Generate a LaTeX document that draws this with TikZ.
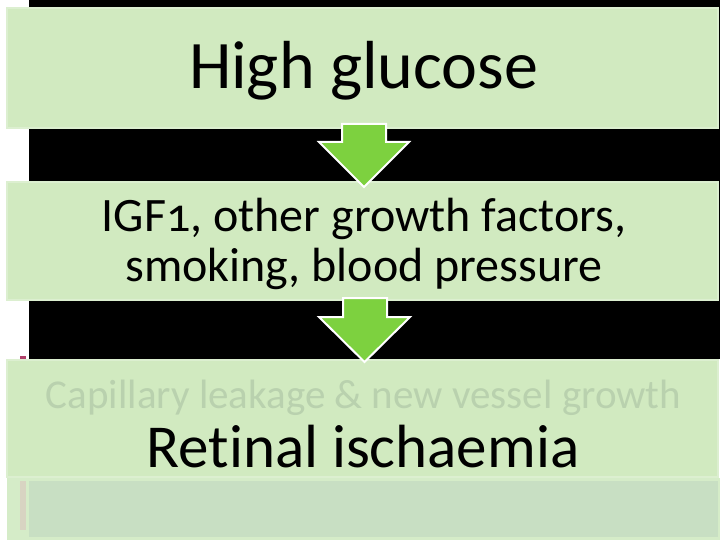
\documentclass[tikz,border=0pt]{standalone}
\usepackage{fontspec}
\setmainfont{Carlito}[Numbers=OldStyle,Ligatures=NoCommon]
\definecolor{boxfill}{HTML}{D1EAC0}
\definecolor{boxline}{HTML}{DCEFD0}
\definecolor{arrowgreen}{HTML}{7DD13F}
\definecolor{fainttext}{HTML}{B9D1AE}
\definecolor{lowfill}{HTML}{C8DFC3}
\definecolor{lowframe}{HTML}{D5ECC8}
\definecolor{beigebar}{HTML}{D8D4C2}
\definecolor{magentadash}{HTML}{B0406A}
\begin{document}
\begin{tikzpicture}[x=1pt,y=-1pt,
  panel/.style={fill=boxfill,draw=boxline,line width=1.5pt},
  downarrow/.style={fill=arrowgreen,draw=white,line width=2pt,line join=miter},
  lbl/.style={inner sep=0pt,align=center,text=black}]
\useasboundingbox (0,0) rectangle (720,540);
\fill[white] (0,0) rectangle (720,540);
\fill[black] (29,0) rectangle (720,359);
% lower frame
\fill[lowframe] (7,478) rectangle (720,540);
\fill[lowfill] (29,481) rectangle (718,537);
\fill[beigebar] (20,481) rectangle (26,530);
\fill[magentadash] (20,356) rectangle (26,359);
% panels
\path[panel] (7,8) rectangle (718,128);
\path[panel] (7,182) rectangle (718,300);
\path[panel] (7,360) rectangle (718,477);
% arrows
\draw[downarrow] (342,124) -- (386,124) -- (386,142) -- (409,142) -- (364,187) -- (319,142) -- (342,142) -- cycle;
\draw[downarrow] (343,298) -- (387,298) -- (387,317) -- (410,317) -- (364.5,362) -- (319,317) -- (343,317) -- cycle;
% texts
\node[lbl,anchor=base,font=\fontsize{68}{72}\selectfont] (t1) at (363.5,89) {High glucose};
\node[lbl,font=\fontsize{48}{50}\selectfont] (t2) at (364,244) {IGF1, other growth factors,\\smoking, blood pressure};
\node[lbl,anchor=base,font=\fontsize{41}{44}\selectfont,text=fainttext] (t3) at (363.5,408) {Capillary leakage \& new vessel growth};
\node[lbl,anchor=base,font=\fontsize{61}{64}\selectfont] (t4) at (363,467) {Retinal ischaemia};
\end{tikzpicture}
\end{document}
